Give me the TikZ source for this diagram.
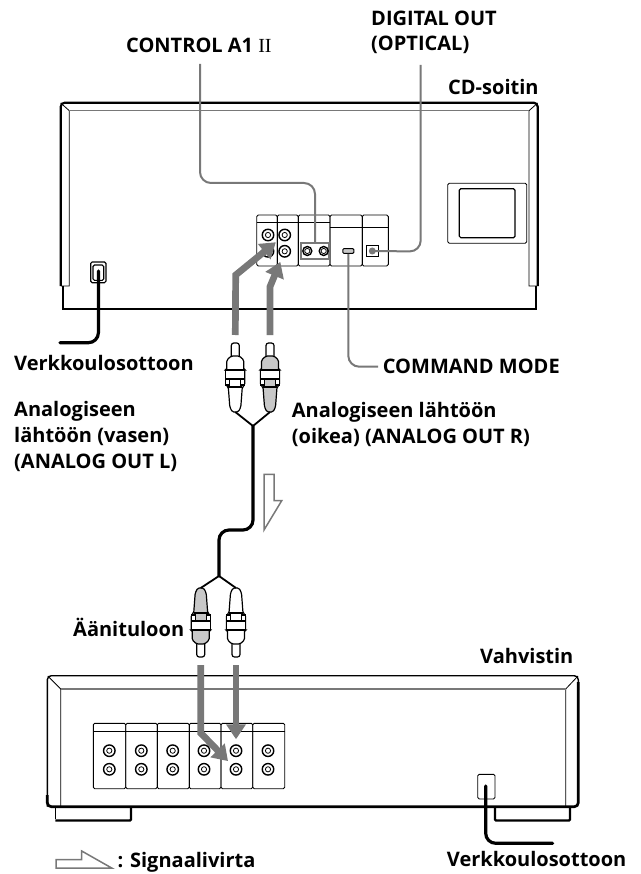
\documentclass[tikz,border=0pt]{standalone}
\usepackage{fontspec}
\usepackage{xcolor}
\setmainfont{Open Sans}
\newfontfamily\romanfont{Liberation Serif}
\usepackage{tikz}
\usetikzlibrary{arrows.meta}
\definecolor{leadGray}{RGB}{120, 120, 120}
\definecolor{plugGray}{RGB}{200, 200, 200}
% x, y of the tip, direction, fill, name
\newcommand{\rcaplug}[5]{
  \begin{scope}[shift={(#1,#2)}, yscale=#3]
    \draw[plugline, fill=white, rounded corners=2.5] (-4,14) -- (-4,0) -- (4,0) -- (4,14);
    \draw[plugline, fill=#4, rounded corners=1.5] (-4,13) -- (-8.5,17) -- (-8.5,27) -- (-9.5,27) -- (-9.5,42)
      -- (-7,44) -- (-5.5,64) -- (-3,69) -- (3,69) -- (5.5,64) -- (7,44) -- (9.5,42)
      -- (9.5,27) -- (8.5,27) -- (8.5,17) -- (4,13) -- cycle;
    \draw[plugline, fill=white] (-9.5,27) rectangle (9.5,36);
    \draw[plugline, fill=white] (-9.5,36) rectangle (-5.5,42);
    \draw[plugline, fill=white] (5.5,36) rectangle (9.5,42);
    \draw[plugline] (-7,44) -- (7,44);
    \coordinate (#5tip) at (0,-8);
    \coordinate (#5end) at (0,69);
  \end{scope}
}

\begin{document}
\begin{tikzpicture}[
    x=1pt,
    y=-1pt,
    >=Latex,
    every node/.style={font=\bfseries\fontsize{20}{25.6}\selectfont},
    lbl/.style={anchor=base west, align=left, inner sep=0pt},
    body/.style={line width=2.2pt, rounded corners=4},
    bezel/.style={line width=0.8pt},
    panelbox/.style={draw, line width=0.9pt, rounded corners=1.5},
    plugline/.style={line width=1.2pt},
    cord/.style={line width=3.2pt, rounded corners=10, line cap=round},
    lead/.style={draw=leadGray, line width=2pt, rounded corners=11},
    signal/.style={draw=leadGray, line width=6.7pt, shorten >=5pt,
        -{Triangle[length=15pt, width=19pt]}},
    flowmark/.style={draw=leadGray, line width=1.5pt, line join=miter},
    jack/.style={circle, draw, line width=1.4pt, minimum size=11.5pt, inner sep=0pt,
        path picture={\draw[line width=0.8pt] (path picture bounding box.center) circle (2.6pt);}}
]
  \useasboundingbox (0,0) rectangle (640,874);

  % CD player
  \draw[body] (60.7,286) -- (60.7,102.7) -- (537.7,102.7) -- (537.7,286);
  \draw[line width=2.2pt] (62.7,286) -- (62.7,309.2) -- (536,309.2) -- (536,286);
  \draw[bezel] (60.7,103) -- (69.3,110.7) -- (69.3,286) -- (61,286);
  \draw[bezel] (537.7,103) -- (529,110.7) -- (529,286) -- (537,286);
  \draw[draw=leadGray, line width=1.6pt] (69.3,110.7) -- (529,110.7);
  \draw[panelbox] (447.7,183.3) rectangle (526.7,243.3);
  \draw[panelbox, line width=1.2pt] (459.3,188.7) rectangle (515,237.7);
  \draw[panelbox, line width=1.1pt] (90.7,262) rectangle (106,282.7);
  \draw[panelbox, line width=1.1pt] (93,265) rectangle (103.7,280.4);

  \foreach \xa/\xb/\yy in {256.7/277.3/222.3, 277.3/298.3/222.3, 298.3/330/222.3,
      330/362.3/227.3, 362.3/388.3/227.3} {
    \draw[panelbox] (\xa,215) rectangle (\xb,266);
    \draw[bezel] (\xa,\yy) -- (\xb,\yy);
  }
  \node[jack] (cdla) at (268,235) {};
  \node[jack] (cdlb) at (268,251.3) {};
  \node[jack] (cdra) at (284.7,235) {};
  \node[jack] (cdrb) at (284.7,251.3) {};
  \node[draw=leadGray, line width=1.8pt, minimum width=28pt, minimum height=16pt, inner sep=0pt] (ctrlport) at (315,250.7) {};
  \node[jack, minimum size=9pt] (ctrla) at (307.3,251) {};
  \node[jack, minimum size=9pt] (ctrlb) at (323.7,251) {};
  \node[draw, line width=1pt, rounded corners=1, fill=plugGray, minimum width=11pt, minimum height=4.6pt, inner sep=0pt] (cmdport) at (348.3,251) {};
  \node[draw, line width=1.4pt, minimum width=12pt, minimum height=10.6pt, inner sep=0pt] (optport) at (372.3,251) {};
  \fill[leadGray] (optport.center) circle (3.5);

  % labels of the CD player
  \node[lbl] (ctrllabel) at (126,53) {CONTROL A1 {\romanfont\mdseries II}};
  \node[lbl] (optlabel) at (371,51) {DIGITAL OUT\\(OPTICAL)};
  \node[lbl] (cdlabel) at (448,95) {CD-soitin};
  \node[lbl] (cmdlabel) at (382.7,373.3) {COMMAND MODE};
  \coordinate (ctrltop) at (200,64);
  \coordinate (opttop) at (420.7,65);

  \draw[lead] (ctrltop) -- (200,183) -- (315,183) -- (ctrlport.north);
  \draw[lead] (opttop) -- (420.7,251.5) -- (optport.center);
  \draw[lead] (cmdport.south) -- (348.3,366.7) -- (378,366.7);

  % mains cable, CD player
  \coordinate (cdcordend) at (60,342.7);
  \draw[cord] (98.4,271) -- (98.4,342.7) -- (cdcordend);
  \node[lbl] (cdmains) at (14,370.7) {Verkkoulosottoon};

  % pair of plugs and cable
  \rcaplug{235.3}{343}{1}{white}{upl}
  \rcaplug{270}{343}{1}{plugGray}{upr}
  \rcaplug{200.7}{657}{-1}{plugGray}{lol}
  \rcaplug{236}{657}{-1}{white}{lor}
  \coordinate (upfork) at (253,426);
  \coordinate (lofork) at (219,576);
  \draw[plugline, line width=1.8pt] (uplend) -- (upfork) -- (uprend);
  \draw[plugline, line width=1.8pt] (lolend) -- (lofork) -- (lorend);
  \draw[cord] (upfork) -- (253,530) -- (219,530) -- (lofork);

  \draw[signal] (upltip) -- (235.7,275) -- (cdra);
  \draw[signal] (uprtip) -- (270,286.7) -- (cdrb);

  \node[lbl] (leftlabel) at (14,468) {Analogiseen\\lähtöön (vasen)\\(ANALOG OUT L)};
  \node[lbl] (rightlabel) at (291.7,443) {Analogiseen lähtöön\\(oikea) (ANALOG OUT R)};
  \node[lbl] (inlabel) at (73,636.7) {Äänituloon};

  % direction of the signal
  \draw[flowmark] (264,474.3) -- (274,474.3) -- (274,500.7) -- (281.7,500.7) -- (264,530) -- cycle;

  % amplifier
  \draw[line width=1.4pt, rounded corners=4] (47.3,806.7) -- (47.3,675.7) -- (578.3,675.7) -- (578.3,690);
  \draw[line width=2.7pt, rounded corners=4] (47.3,795) -- (47.3,806.7) -- (578.3,806.7) -- (578.3,682);
  \draw[bezel] (47.8,676) -- (60.7,689) -- (60.7,806);
  \draw[bezel] (578,676) -- (565.7,689) -- (565.7,806);
  \draw[draw=leadGray, line width=1.1pt] (60.7,689) -- (565.7,689);
  \draw[line width=0.9pt] (55.3,808) -- (55.3,819);
  \draw[line width=2.4pt, rounded corners=1] (55.3,820.5) -- (131,820.5) -- (131,808);
  \draw[line width=0.9pt] (570,808) -- (570,819);
  \draw[line width=2.4pt, rounded corners=1] (495,808) -- (495,820.5) -- (570,820.5) -- (570,808);

  \foreach \xa/\xb in {93.3/125.7, 125.7/157.3, 157.3/189.3, 189.3/221, 221/252.7, 252.7/284.7} {
    \draw[panelbox] (\xa,723.3) rectangle (\xb,788.7);
    \draw[bezel] (\xa,731.3) -- (\xb,731.3);
  }
  \foreach \xx [count=\i] in {109.3, 141.3, 172.7, 204, 236, 268} {
    \node[jack] (ampa\i) at (\xx,750.7) {};
    \node[jack] (ampb\i) at (\xx,769.3) {};
  }
  \draw[signal] (loltip) -- (200.7,733) -- (ampb5);
  \draw[signal] (lortip) -- (ampa5);

  \draw[panelbox] (477.7,774.3) rectangle (495,799);
  \draw[cord] (485.7,786) -- (485.7,843.3) -- (552.7,843.3);

  \node[lbl] (amplabel) at (480,663) {Vahvistin};
  \node[lbl] (ampmains) at (446.7,866.7) {Verkkoulosottoon};

  % legend
  \draw[flowmark] (56,859.5) -- (81.7,859.5) -- (81.7,851) -- (111.7,868) -- (56,868) -- cycle;
  \node[lbl] (flowlabel) at (117.3,867) {: Signaalivirta};
\end{tikzpicture}
\end{document}
